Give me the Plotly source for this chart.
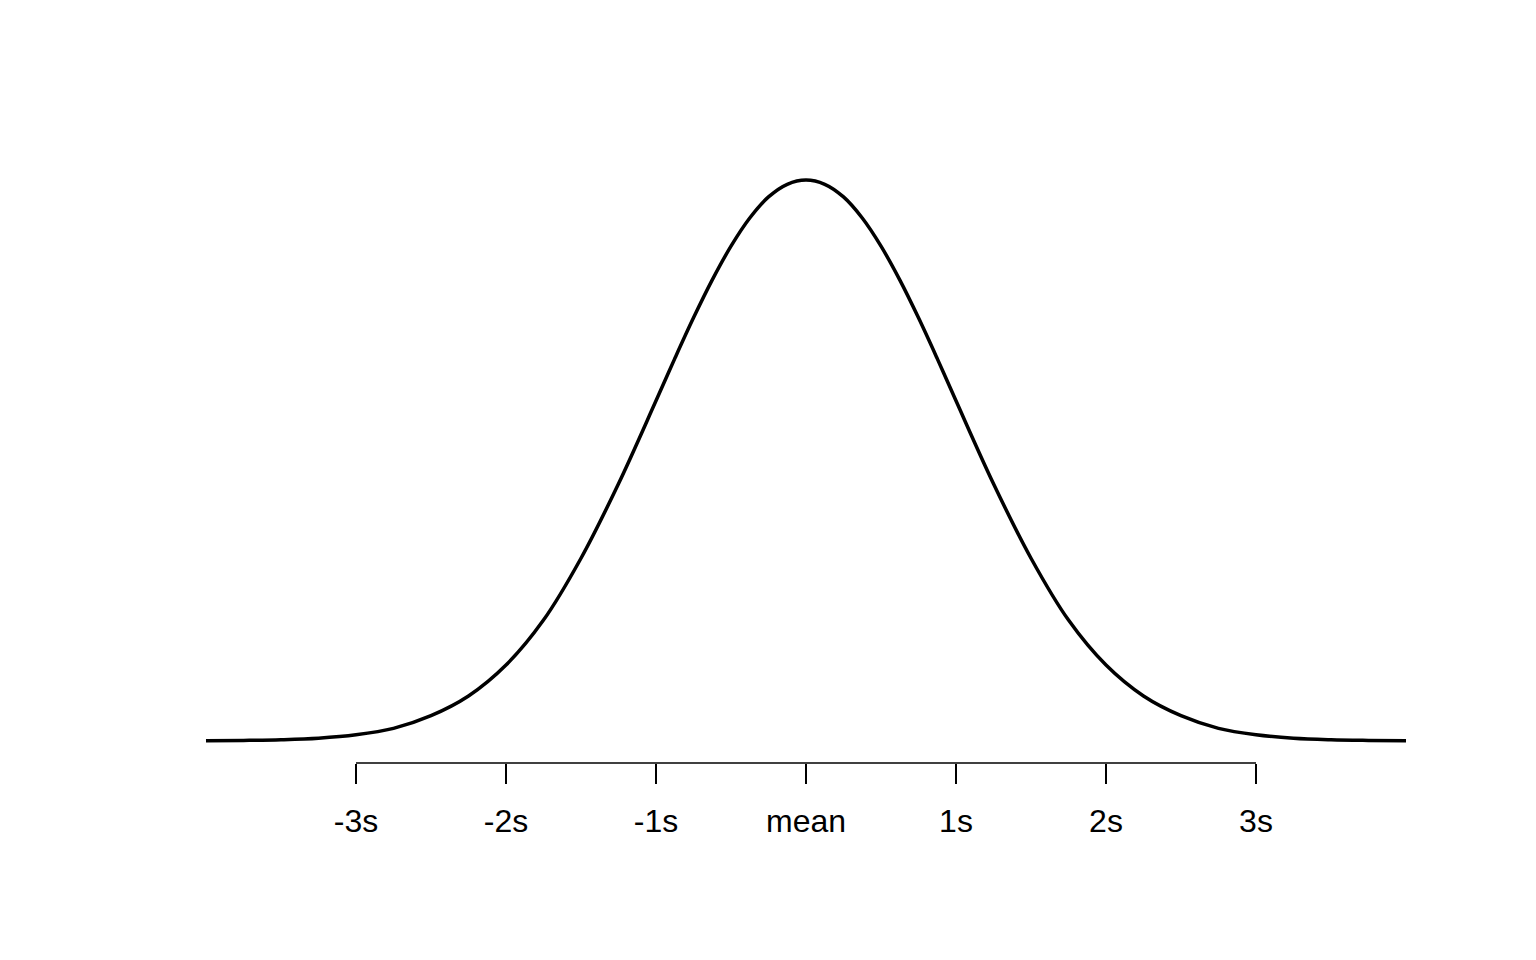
import plotly.graph_objects as go

# x positions in standard-deviation units, density
x_sd = [-4.0, -3.75, -3.5, -3.25, -3.0, -2.75, -2.5, -2.25, -2.0, -1.75, -1.5, -1.25, -1.0,
        -0.875, -0.75, -0.625, -0.5, -0.375, -0.25, -0.125, 0.0, 0.125, 0.25, 0.375, 0.5,
        0.625, 0.75, 0.875, 1.0, 1.25, 1.5, 1.75, 2.0, 2.25, 2.5,
        2.75, 3.0, 3.25, 3.5, 3.75, 4.0]
density = [0.0001, 0.0004, 0.0009, 0.002, 0.0044, 0.009, 0.018, 0.032, 0.054, 0.086, 0.130,
           0.183, 0.242, 0.272, 0.301, 0.328, 0.352, 0.372, 0.387, 0.396, 0.399, 0.396, 0.387,
           0.372, 0.352, 0.328, 0.301, 0.272, 0.242, 0.183, 0.130,
           0.086, 0.054, 0.032, 0.018, 0.009, 0.0044, 0.002, 0.0009, 0.0004, 0.0001]
tick_vals = [-3, -2, -1, 0, 1, 2, 3]
tick_text = ["-3s", "-2s", "-1s", "mean", "1s", "2s", "3s"]

fig = go.Figure()
fig.add_trace(go.Scatter(x=x_sd, y=density, mode="lines",
                         line=dict(color="black", width=3.5, shape="spline", smoothing=1.0),
                         hoverinfo="skip", showlegend=False))

fig.add_shape(type="line", xref="x", yref="paper", x0=tick_vals[0], x1=tick_vals[-1],
              y0=0, y1=0, line=dict(color="black", width=1.5))

fig.update_layout(
    width=1536, height=960,
    margin=dict(l=150, r=90, t=150, b=205),
    plot_bgcolor="white", paper_bgcolor="white",
    font=dict(family="Liberation Sans, Arial, Helvetica, sans-serif", size=32, color="black"),
    xaxis=dict(range=[-4.32, 4.32], tickvals=tick_vals, ticktext=tick_text,
               ticks="outside", ticklen=20, tickwidth=1.5, tickcolor="black",
               showline=False, showgrid=False, zeroline=False, fixedrange=True,
               ticklabelstandoff=10),
    yaxis=dict(range=[-0.01565, 0.4147], visible=False, showgrid=False, zeroline=False),
)

fig.write_html("out.html")
